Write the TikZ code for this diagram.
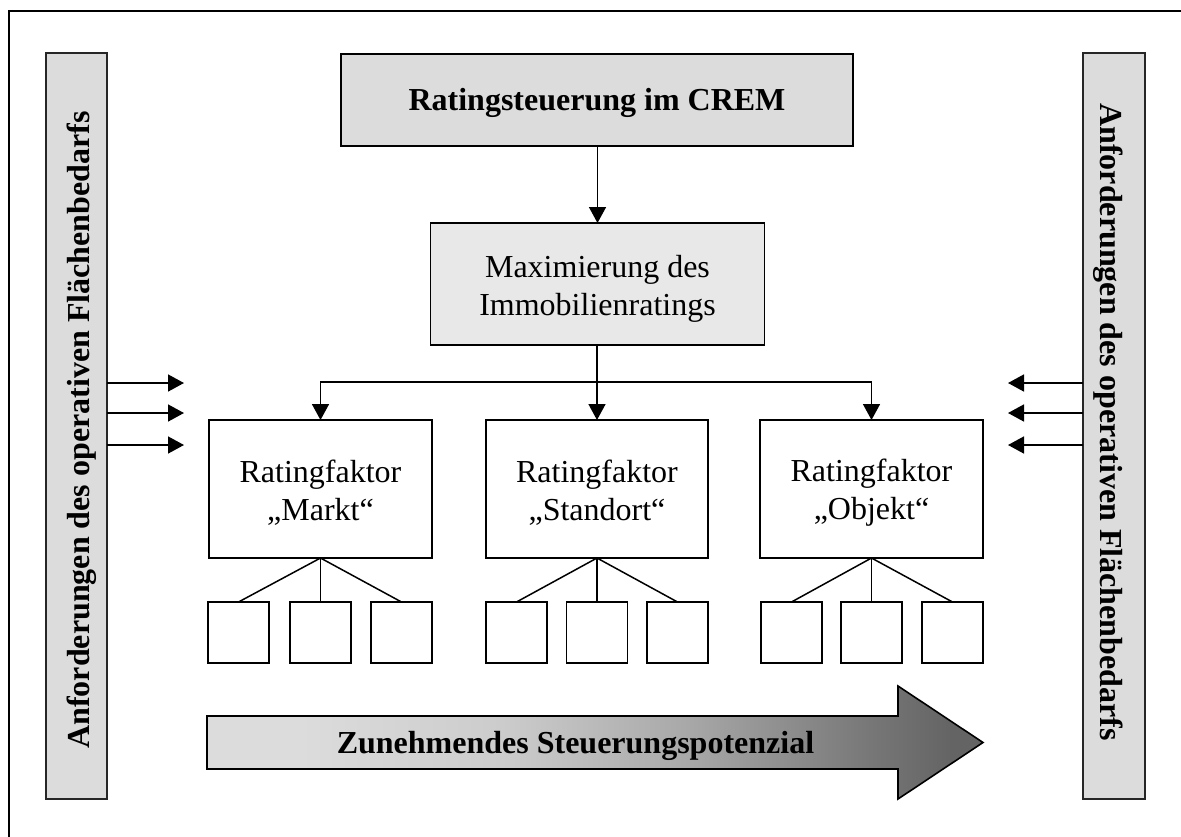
\documentclass[tikz,border=0pt]{standalone}
\usepackage{fontspec}
\setmainfont{Liberation Serif}
\usetikzlibrary{arrows.meta}
\definecolor{boxgrey}{RGB}{220,220,220}
\definecolor{palegrey}{RGB}{232,232,232}
\definecolor{shA}{RGB}{220,220,220}
\definecolor{shB}{RGB}{204,204,204}
\definecolor{shC}{RGB}{168,168,168}
\definecolor{shD}{RGB}{118,118,118}
\definecolor{shE}{RGB}{100,100,100}
% light on the left, dark towards the arrow head
\pgfdeclarehorizontalshading{steershade}{100bp}{color(0bp)=(shA); color(31bp)=(shA); color(44bp)=(shB); color(56bp)=(shC); color(68bp)=(shD); color(73bp)=(shE); color(100bp)=(shE)}
\begin{document}
\begin{tikzpicture}[x=1pt,y=-1pt,
  every node/.style={inner sep=0pt, outer sep=0pt},
  txt/.style={font=\fontsize{32}{38}\selectfont, align=center},
  btxt/.style={font=\fontsize{32}{38}\selectfont\bfseries, align=center},
  greybox/.style={draw=black, line width=1.8pt, fill=boxgrey},
  palebox/.style={draw=black, line width=1.8pt, fill=palegrey},
  factorbox/.style={draw=black, line width=1.8pt, fill=white, minimum width=223, minimum height=138},
  subbox/.style={draw=black, line width=1.8pt, fill=white, minimum width=61, minimum height=61},
  sidebar/.style={draw=black!85, line width=2.2pt, fill=boxgrey, minimum width=61, minimum height=746},
  conn/.style={line width=1.6pt, -{Triangle[length=16pt,width=17pt]}},
  branch/.style={line width=1.5pt}]

\useasboundingbox (0,0) rectangle (1181,836);

% outer frame (open towards right and bottom)
\draw[line width=2pt] (9,840) -- (9,11) -- (1185,11);

% side bars
\node[sidebar] (lbar) at (76.5,426) {};
\node[sidebar, minimum width=62] (rbar) at (1114,426) {};
\node[btxt, rotate=90, anchor=base] (ltxt) at (89,430) {Anforderungen des operativen Flächenbedarfs};
\node[btxt, rotate=-90, anchor=base] (rtxt) at (1100,422) {Anforderungen des operativen Flächenbedarfs};

% central hierarchy
\node[greybox, minimum width=512, minimum height=92] (top) at (597,100) {};
\node[btxt, anchor=base] (toptxt) at (597,110) {Ratingsteuerung im CREM};

\node[palebox, minimum width=334, minimum height=122] (max) at (597.5,284) {};
\node[txt] (maxtxt) at (597.5,288.5) {Maximierung des\\Immobilienratings};

\node[factorbox] (rf1) at (320.5,489) {};
\node[factorbox, minimum width=222] (rf2) at (597,489) {};
\node[factorbox] (rf3) at (871.5,489) {};
\node[txt] (rf1txt) at (320.5,492.3) {Ratingfaktor\\„Markt“};
\node[txt] (rf2txt) at (597,492.3) {Ratingfaktor\\„Standort“};
\node[txt] (rf3txt) at (871.5,492.3) {Ratingfaktor\\„Objekt“};

\draw[conn] (top.south -| max.center) -- (max.north);
\draw[conn] (max.south -| rf2.north) -- (rf2.north);
\draw[conn] (max.south -| rf2.north) -- ++(0,37) -| (rf1.north);
\draw[conn] (max.south -| rf2.north) -- ++(0,37) -| (rf3.north);

% sub-factor boxes
\foreach \g/\xa/\xb/\xc in {1/238.5/320.5/401.5, 2/516.5/597/677.5, 3/791.5/871.5/952.5}{
  \node[subbox] (s\g a) at (\xa,632.5) {};
  \node[subbox] (s\g b) at (\xb,632.5) {};
  \node[subbox] (s\g c) at (\xc,632.5) {};
  \draw[branch] (rf\g.south) -- (s\g a.north);
  \draw[branch] (rf\g.south) -- (s\g b.north);
  \draw[branch] (rf\g.south) -- (s\g c.north);
}

% requirement arrows from both sides
\coordinate (la1) at (184,383);
\coordinate (la2) at (184,413);
\coordinate (la3) at (184,445);
\coordinate (ra1) at (1008,383);
\coordinate (ra2) at (1008,413);
\coordinate (ra3) at (1008,445);
\foreach \k in {1,2,3}{
  \draw[conn] (lbar.east |- la\k) -- (la\k);
  \draw[conn] (rbar.west |- ra\k) -- (ra\k);
}

% broad arrow at the bottom
\shadedraw[shading=steershade, draw=black, line width=1.6pt, line join=miter]
  (207,716) -- (898,716) -- (898,686) -- (983,742.5) -- (898,799) -- (898,769) -- (207,769) -- cycle;
\node[btxt, anchor=base] (steertxt) at (575.5,753) {Zunehmendes Steuerungspotenzial};

\end{tikzpicture}
\end{document}
